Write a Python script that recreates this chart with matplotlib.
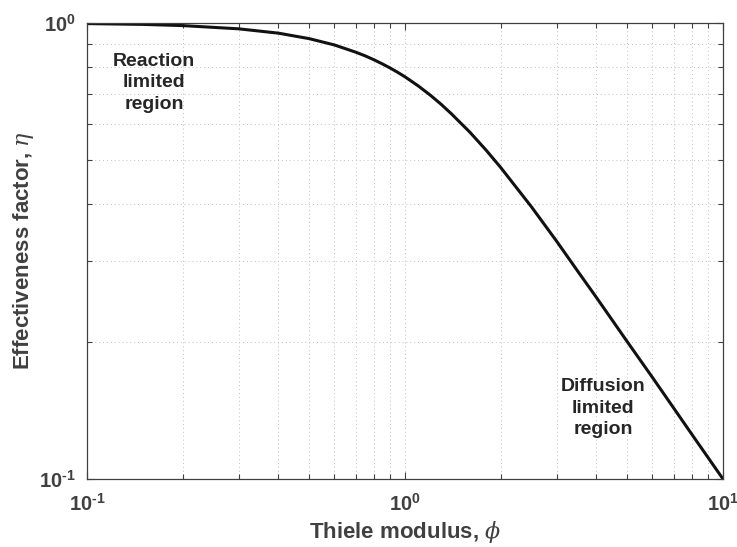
import math
import matplotlib
matplotlib.use("Agg")
import matplotlib.pyplot as plt
from matplotlib.ticker import LogLocator, FuncFormatter, NullFormatter

plt.rcParams["font.family"] = ["Liberation Sans", "DejaVu Sans"]
plt.rcParams["mathtext.fontset"] = "custom"
plt.rcParams["mathtext.rm"] = "Liberation Sans:bold"
plt.rcParams["mathtext.bf"] = "Liberation Sans:bold"
plt.rcParams["mathtext.it"] = "DejaVu Serif:italic"

# Thiele modulus and effectiveness factor samples
phi = [0.1, 0.15, 0.2, 0.3, 0.4, 0.5, 0.6, 0.7, 0.75, 0.8, 0.85, 0.9, 0.95,
       1.0, 1.1, 1.2, 1.3, 1.4, 1.6, 1.8, 2.0, 2.5, 3.0, 3.5, 4.0, 5.0,
       6.0, 7.0, 8.0, 10.0]
eta = [0.997, 0.993, 0.987, 0.971, 0.950, 0.924, 0.895, 0.863, 0.847, 0.830,
       0.813, 0.796, 0.779, 0.762, 0.728, 0.695, 0.663, 0.632, 0.576, 0.526,
       0.482, 0.395, 0.332, 0.285, 0.250, 0.200, 0.167, 0.143, 0.125, 0.100]

x_limits = [0.1, 10]
y_limits = [0.1, 1.0]
x_title = r"Thiele modulus, $\mathit{\phi}$"
y_title = r"Effectiveness factor, $\mathit{\eta}$"
note_left = "Reaction\nlimited\nregion"
note_right = "Diffusion\nlimited\nregion"

label_grey = "#404040"
axis_grey = "#404040"

fig = plt.figure(figsize=(7.37, 5.47), dpi=100)
ax = fig.add_axes([87 / 737, 68 / 547, 636 / 737, 456 / 547])

ax.loglog(phi, eta, color="#111111", linewidth=2.2, solid_capstyle="butt")

ax.set_xlim(x_limits)
ax.set_ylim(y_limits)

ax.xaxis.set_major_locator(LogLocator(base=10, numticks=10))
ax.yaxis.set_major_locator(LogLocator(base=10, numticks=10))
ax.xaxis.set_minor_locator(LogLocator(base=10, subs=range(2, 10), numticks=20))
ax.yaxis.set_minor_locator(LogLocator(base=10, subs=range(2, 10), numticks=20))


def pow_label(v, pos):
    e = int(round(math.log10(v)))
    # short hyphen for the exponent sign
    exp_txt = ("\u2010%d" % abs(e)) if e < 0 else "%d" % e
    return r"$\mathbf{10^{%s}}$" % exp_txt


ax.xaxis.set_major_formatter(FuncFormatter(pow_label))
ax.yaxis.set_major_formatter(FuncFormatter(pow_label))
ax.xaxis.set_minor_formatter(NullFormatter())
ax.yaxis.set_minor_formatter(NullFormatter())

ax.grid(True, which="both", linestyle=(0, (1, 3)), color="#c0c0c0", linewidth=0.7)

ax.tick_params(which="both", direction="in", top=True, right=True,
               color=axis_grey, width=0.8, labelcolor=label_grey, labelsize=14.5)
ax.tick_params(which="major", length=5)
ax.tick_params(which="minor", length=3.5)
ax.tick_params(axis="x", which="major", pad=10)
ax.tick_params(axis="y", which="major", pad=8)

for s in ax.spines.values():
    s.set_color(axis_grey)
    s.set_linewidth(0.9)

ax.set_xlabel(x_title, fontsize=16, fontweight="bold", color=label_grey, labelpad=3)
ax.set_ylabel(y_title, fontsize=16, fontweight="bold", color=label_grey, labelpad=2)

ax.text(0.1625, 0.739, note_left, ha="center", va="center", fontsize=14,
        fontweight="bold", color="#262626", linespacing=1.35)
ax.text(4.2, 0.143, note_right, ha="center", va="center", fontsize=14,
        fontweight="bold", color="#262626", linespacing=1.35)

fig.savefig("out.png", dpi=100)
